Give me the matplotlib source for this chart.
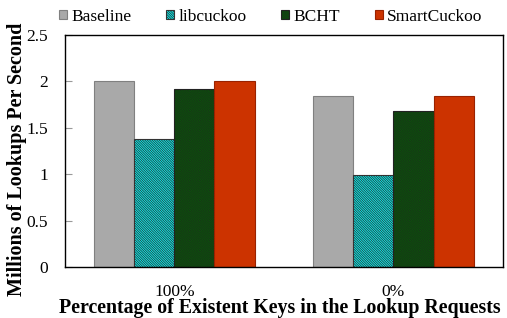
import matplotlib.pyplot as plt
import numpy as np

plt.rcParams['font.family'] = ['Liberation Serif', 'DejaVu Serif']
plt.rcParams['hatch.linewidth'] = 0.6

groups = ['100%', '0%']
series = ['Baseline', 'libcuckoo', 'BCHT', 'SmartCuckoo']
baseline = [2.0, 1.84]
libcuckoo = [1.38, 0.99]
bcht = [1.915, 1.68]
smart = [2.0, 1.84]

values = [baseline, libcuckoo, bcht, smart]
faces = ['#A9A9A9', '#00FFFF', '#006400', '#CC3300']
edges = ['#808080', '#333333', '#222222', '#992200']
hatches = [None, '\\' * 14, '/' * 14, None]


def main():
    fig = plt.figure(figsize=(5.07, 3.18), dpi=100)
    ax = fig.add_axes([0.128, 0.160, 0.864, 0.730])

    x = np.arange(len(groups))
    w = 0.183
    for i, name in enumerate(series):
        off = (i - 1.5) * w
        ax.bar(x + off, values[i], w, color=faces[i], edgecolor=edges[i],
               hatch=hatches[i], linewidth=0.8, label=name, zorder=2)

    ax.set_xlim(-0.5, 1.5)
    ax.set_ylim(0, 2.5)
    ax.set_yticks([0, 0.5, 1, 1.5, 2, 2.5])
    ax.set_yticklabels(['0', '0.5', '1', '1.5', '2', '2.5'])
    ax.set_xticks(x)
    ax.set_xticklabels(groups)
    ax.tick_params(axis='x', length=0, labelsize=12.5, pad=12)
    ax.tick_params(axis='y', direction='in', length=5, color='#999999',
                   labelsize=12.5, pad=12)
    for s in ax.spines.values():
        s.set_linewidth(1.0)

    ax.set_ylabel('Millions of Lookups Per Second', fontsize=14.5,
                  fontweight='bold')
    ax.yaxis.set_label_coords(-0.086, 0.465)
    ax.set_xlabel('Percentage of Existent Keys in the Lookup Requests',
                  fontsize=14.3, fontweight='bold')
    ax.xaxis.set_label_coords(0.49, -0.135)

    ax.legend(loc='lower center', bbox_to_anchor=(0.47, 1.0), ncol=4,
              frameon=False, fontsize=12.5, handlelength=0.45,
              handleheight=0.45, handletextpad=0.25, columnspacing=2.0,
              borderaxespad=0.2)

    fig.savefig('out.png', dpi=100)


if __name__ == "__main__":
    main()
